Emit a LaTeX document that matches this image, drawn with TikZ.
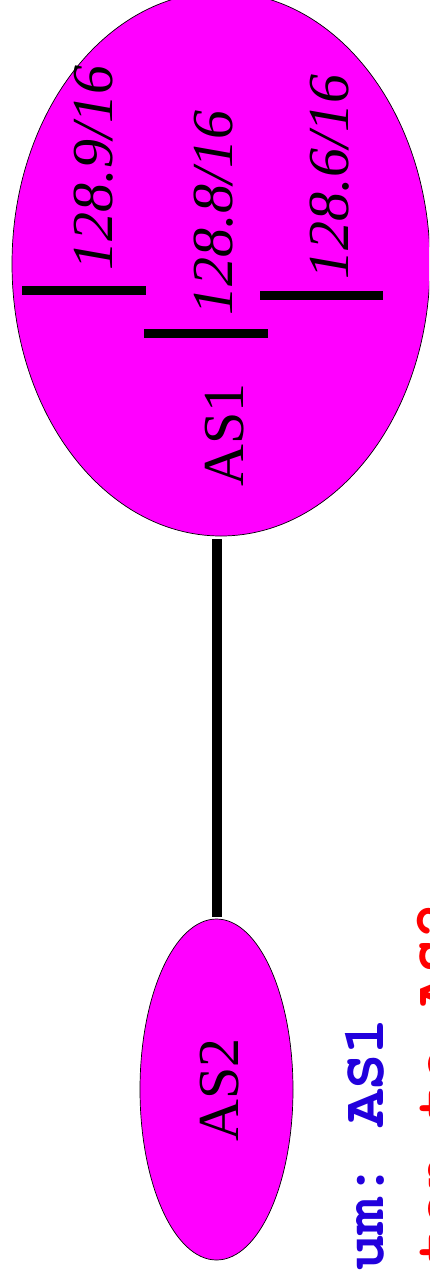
\documentclass[tikz,border=0pt]{standalone}
\usepackage{fontspec}
\setmainfont{Liberation Serif}
\setmonofont{TeX Gyre Cursor}
\usetikzlibrary{shapes.geometric}
\definecolor{noteblue}{RGB}{34,0,221}
\definecolor{asfill}{RGB}{255,0,255}
\tikzset{
  asnet/.style={ellipse,draw=black,line width=.7pt,fill=asfill,inner sep=0pt},
  aslabel/.style={rotate=90,anchor=base,font=\fontsize{58}{58}\selectfont},
  netlabel/.style={rotate=90,anchor=base west,font=\fontsize{58}{58}\selectfont\itshape},
  subnet/.style={line width=9pt},
  link/.style={line width=10pt,shorten <=3pt,shorten >=2pt},
  note/.style={rotate=90,anchor=base west,font=\fontsize{60}{60}\selectfont\ttfamily\bfseries}
}
\begin{document}
\begin{tikzpicture}[x=1pt,y=-1pt]
\useasboundingbox (0,0) rectangle (429,1270);\clip (0,0) rectangle (429,1270);
\node[asnet,minimum width=418pt,minimum height=544pt] (as1) at (221,264) {};
\node[asnet,minimum width=153pt,minimum height=341pt] (as2) at (216.5,1089.5) {};
\draw[link] (as2.north |- as1.south)--(as2.north);
\draw[subnet] (22,290.5)--(146,290.5);\draw[subnet] (144,333)--(268,333);\draw[subnet] (260,295.5)--(383,295.5);
\node[netlabel] (p9) at (112,274) {128.9/16};\node[netlabel] (p8) at (232,319) {128.8/16};
\node[netlabel] (p6) at (348,283) {128.6/16};
\node[aslabel] (as1name) at (243,435) {AS1};\node[aslabel] (as2name) at (238,1090) {AS2};
\node[note,text=noteblue] (sum) at (383,1274) {um: AS1};
\node[note,text=red] (adv) at (455,1266) {ten to AS2};
\end{tikzpicture}
\end{document}
